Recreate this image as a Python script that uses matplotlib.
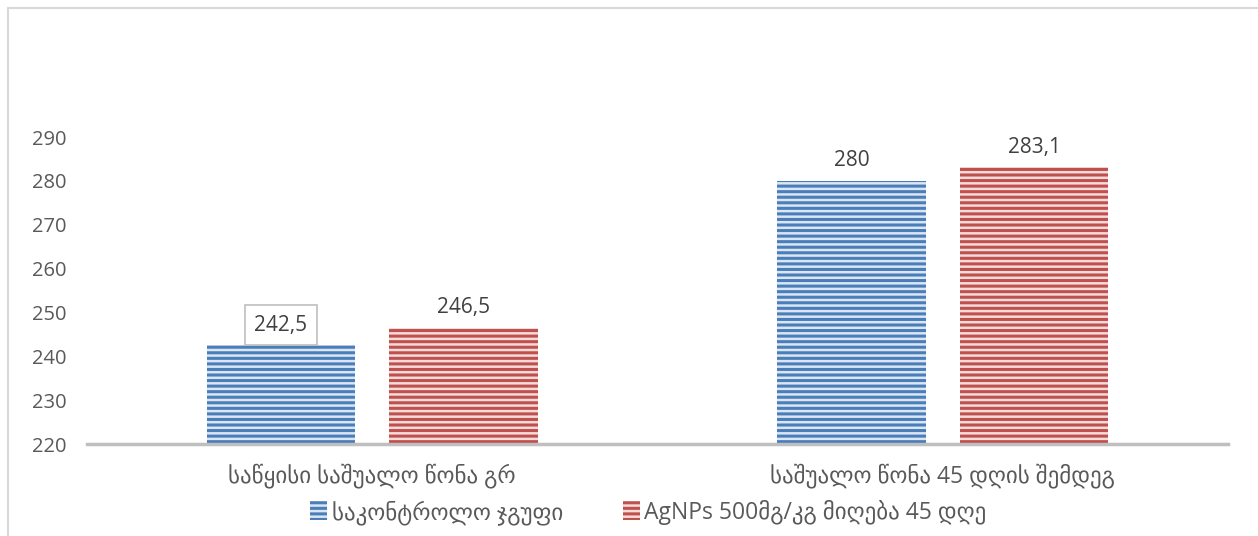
import matplotlib.pyplot as plt
from matplotlib.patches import Rectangle

categories = ['საწყისი საშუალო წონა გრ', 'საშუალო წონა 45 დღის შემდეგ']
series_names = ['საკონტროლო ჯგუფი', 'AgNPs 500მგ/კგ მიღება 45 დღე']
control = [242.5, 280.0]
agnps = [246.5, 283.1]
y_ticks = [220, 230, 240, 250, 260, 270, 280, 290]

fonts = ['Open Sans', 'DejaVu Sans']
plt.rcParams['font.family'] = fonts
plt.rcParams['hatch.linewidth'] = 2.2
text_color = '#595959'

fig = plt.figure(figsize=(12.58, 5.36), dpi=100)
# outer frame of the chart
fig.patches.append(Rectangle((8 / 1258, -0.05), 1.2, (536 - 8) / 536 + 0.05,
                             transform=fig.transFigure, fill=False,
                             edgecolor='#d9d9d9', linewidth=1.5))

ax = fig.add_axes([87 / 1258, (536 - 444) / 536, (1228 - 87) / 1258, (444 - 137) / 536])

x = range(len(categories))
width = 0.26
off = 0.16
styles = [('#4a7ebb', '#dce6f2'), ('#c0504d', '#f2dcdb')]
for i, (vals, name) in enumerate(zip([control, agnps], series_names)):
    edge, face = styles[i]
    pos = [xi + (-off if i == 0 else off) for xi in x]
    bars = ax.bar(pos, [v - 220 for v in vals], width, bottom=220,
                  facecolor=face, edgecolor=edge, hatch='---', linewidth=0,
                  label=name)
    for b, v in zip(bars, vals):
        lab = f'{v:g}'.replace('.', ',')
        box = None
        if i == 0 and v == 242.5:
            box = dict(boxstyle='square,pad=0.45', facecolor='white',
                       edgecolor='#bfbfbf', linewidth=1.2)
        ax.text(b.get_x() + b.get_width() / 2, v + 4.6, lab, ha='center', va='center',
                fontsize=15, color='#404040', bbox=box, clip_on=False)

ax.set_ylim(220, 290)
ax.set_xlim(-0.5, 1.5)
ax.set_yticks(y_ticks)
ax.set_yticklabels([str(t) for t in y_ticks])
ax.set_xticks(list(x))
ax.set_xticklabels(categories)
ax.tick_params(axis='y', length=0, pad=15, labelsize=14.5, labelcolor=text_color)
ax.tick_params(axis='x', length=0, pad=14, labelsize=16.5, labelcolor=text_color)
for s in ['top', 'right', 'left']:
    ax.spines[s].set_visible(False)
ax.spines['bottom'].set_color('#bfbfbf')
ax.spines['bottom'].set_linewidth(2.5)

leg = ax.legend(loc='center', bbox_to_anchor=(0.492, -0.222), ncol=2, frameon=False,
                fontsize=16.5, handlelength=0.75, handleheight=0.9, handletextpad=0.2,
                columnspacing=2.6, labelcolor=text_color)

fig.savefig('out.png', dpi=100)
